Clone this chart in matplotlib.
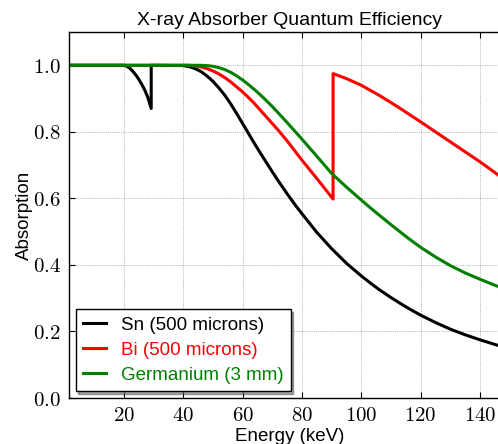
import matplotlib
matplotlib.use('Agg')
import matplotlib.pyplot as plt
from matplotlib.ticker import FuncFormatter

plt.rcParams['mathtext.fontset'] = 'cm'
plt.rcParams['font.family'] = ['Liberation Sans', 'DejaVu Sans']

# values (energy in keV, absorption 0..1)
sn_e = [1, 20, 21, 22, 23, 24, 25, 26, 27, 28, 29.2, 29.2, 40, 42, 44, 46, 48, 50, 52, 54, 56, 58,
        60, 62, 64, 66, 68, 70, 72, 75, 78, 80, 85, 90, 95, 100, 103, 106, 110, 113, 116, 120, 125,
        130, 135, 140, 145, 150]
sn_a = [1.0, 1.0, 0.997, 0.991, 0.982, 0.971, 0.958, 0.943, 0.926, 0.905, 0.87, 1.0, 0.999, 0.996,
        0.99, 0.981, 0.968, 0.952, 0.932, 0.91, 0.884, 0.855, 0.825, 0.795, 0.765, 0.736, 0.708,
        0.68, 0.653, 0.614, 0.577, 0.554, 0.498, 0.449, 0.405, 0.367, 0.346, 0.326, 0.302, 0.285,
        0.269, 0.249, 0.227, 0.207, 0.19, 0.175, 0.161, 0.148]

bi_e = [1, 42, 44, 46, 48, 50, 52, 54, 56, 58, 60, 62, 64, 66, 68, 70, 72, 75, 78, 80, 85, 90.5,
        90.5, 95, 100, 103, 106, 110, 113, 120, 125, 130, 135, 140, 145, 150]
bi_a = [1.0, 1.0, 0.998, 0.995, 0.99, 0.983, 0.974, 0.963, 0.95, 0.935, 0.92, 0.903, 0.885, 0.865,
        0.845, 0.825, 0.805, 0.773, 0.738, 0.715, 0.66, 0.598, 0.975, 0.96, 0.94, 0.925, 0.91,
        0.888, 0.871, 0.83, 0.80, 0.77, 0.74, 0.71, 0.678, 0.645]

ge_e = [1, 46, 48, 50, 52, 54, 56, 58, 60, 62, 64, 66, 68, 70, 72, 75, 78, 80, 85, 90, 95, 100,
        103, 106, 110, 113, 116, 120, 125, 130, 135, 140, 145, 150]
ge_a = [1.0, 1.0, 0.999, 0.997, 0.993, 0.987, 0.979, 0.968, 0.956, 0.942, 0.927, 0.911, 0.894,
        0.876, 0.857, 0.828, 0.798, 0.778, 0.727, 0.675, 0.634, 0.595, 0.572, 0.55, 0.521, 0.5,
        0.479, 0.453, 0.424, 0.398, 0.376, 0.357, 0.339, 0.322]

labels = ['Sn (500 microns)', 'Bi (500 microns)', 'Germanium (3 mm)']
colors = ['k', 'r', 'g']

fig = plt.figure(figsize=(4.98, 4.44), dpi=100)
ax = fig.add_axes([0.1386, 0.1036, 0.8847, 0.8243])

ax.plot(sn_e, sn_a, color=colors[0], lw=2.2, label=labels[0])
ax.plot(bi_e, bi_a, color=colors[1], lw=2.2, label=labels[1])
ax.plot(ge_e, ge_a, color=colors[2], lw=2.2, label=labels[2])

ax.set_xlim(1.5, 150)
ax.set_ylim(0, 1.1)
ax.set_xticks([20, 40, 60, 80, 100, 120, 140])
ax.set_yticks([0.0, 0.2, 0.4, 0.6, 0.8, 1.0])
ax.xaxis.set_major_formatter(FuncFormatter(lambda v, p: r'$%d$' % v))
ax.yaxis.set_major_formatter(FuncFormatter(lambda v, p: r'$%.1f$' % v))
ax.tick_params(direction='in', top=True, right=True, labelsize=15, pad=6, length=4)
ax.grid(True, color='k', linestyle=':', linewidth=0.5, alpha=0.5)
for s in ax.spines.values():
    s.set_linewidth(1)

ax.set_title('X-ray Absorber Quantum Efficiency', fontsize=14, pad=5)
ax.set_xlabel('Energy (keV)', fontsize=13.5, labelpad=2)
ax.set_ylabel('Absorption', fontsize=13.5, labelpad=0)

leg = ax.legend(loc='lower left', fontsize=13.5, shadow=True, fancybox=False, handlelength=1.2,
                borderaxespad=0.35, labelspacing=0.42, framealpha=1)
leg.get_frame().set_edgecolor('k')
for t, c in zip(leg.get_texts(), colors):
    t.set_color(c)

fig.savefig('out.png', dpi=100)
